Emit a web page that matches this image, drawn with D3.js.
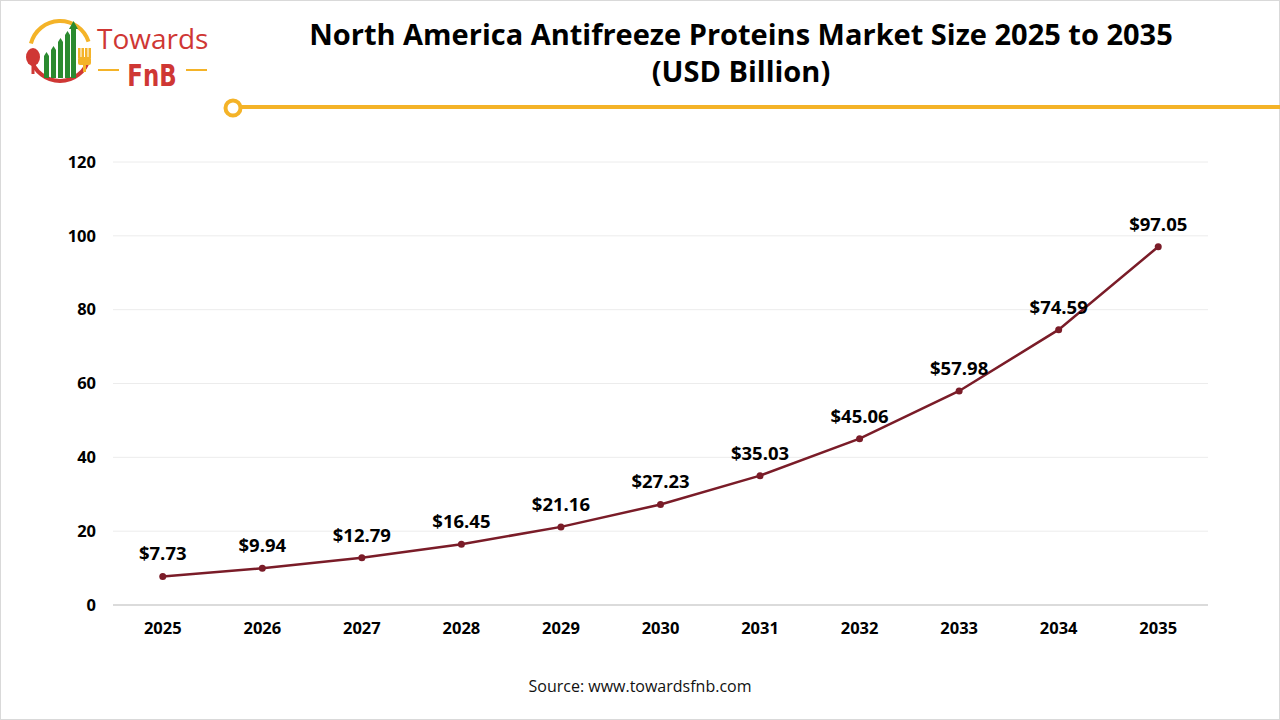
<!DOCTYPE html>
<html><head><meta charset="utf-8">
<script src="https://cdn.jsdelivr.net/npm/d3@7"></script>
<style>
html,body{margin:0;padding:0;background:#fff;}
svg{display:block;}
</style></head>
<body>
<svg id="chart" width="1280" height="720"></svg>
<script>
const years = ["2025","2026","2027","2028","2029","2030","2031","2032","2033","2034","2035"];
const values = [7.73, 9.94, 12.79, 16.45, 21.16, 27.23, 35.03, 45.06, 57.98, 74.59, 97.05];
const yTicks = [0, 20, 40, 60, 80, 100, 120];
const titleLines = ["North America Antifreeze Proteins Market Size 2025 to 2035", "(USD Billion)"];
const sourceText = "Source: www.towardsfnb.com";

const svg = d3.select("#chart");
const W = 1280, H = 720;
const font = "'Open Sans', 'DejaVu Sans', sans-serif";

// frame
svg.append("rect").attr("x",0.5).attr("y",0.5).attr("width",W-1).attr("height",H-1)
  .attr("fill","#fff").attr("stroke","#d9d9d9").attr("stroke-width",1);

// title
svg.append("g").selectAll("text").data(titleLines).join("text")
  .attr("x",741).attr("y",(d,i)=>45+i*37)
  .attr("text-anchor","middle").attr("font-family",font).attr("font-weight",700)
  .attr("font-size",29).attr("fill","#000").text(d=>d);

// gold divider
const gold = "#F4B328";
svg.append("line").attr("x1",241).attr("x2",1280).attr("y1",107).attr("y2",107)
  .attr("stroke",gold).attr("stroke-width",4);
svg.append("circle").attr("cx",233).attr("cy",108).attr("r",7.5)
  .attr("fill","#fff").attr("stroke",gold).attr("stroke-width",4);

// logo
const red = "#CF3734", green = "#2A8A2F";
const logo = svg.append("g");
const arcGen = d3.arc().innerRadius(28).outerRadius(32);
logo.append("path").attr("transform","translate(60,51)")
  .attr("d",arcGen({startAngle:-Math.PI*0.42,endAngle:Math.PI*0.40})).attr("fill",gold);
logo.append("path").attr("transform","translate(60,51)")
  .attr("d",arcGen({startAngle:Math.PI*0.58,endAngle:Math.PI*1.42})).attr("fill",red);
// spoon
logo.append("ellipse").attr("cx",33).attr("cy",57).attr("rx",7).attr("ry",9).attr("fill",red);
logo.append("rect").attr("x",31.5).attr("y",60).attr("width",3).attr("height",14).attr("fill",red);
// fork
logo.append("rect").attr("x",78).attr("y",57).attr("width",13).attr("height",8).attr("rx",2).attr("fill",gold);
[78,81.5,85,88.5].forEach(xx=>logo.append("rect").attr("x",xx).attr("y",48).attr("width",2.5).attr("height",10).attr("fill",gold));
logo.append("rect").attr("x",83).attr("y",64).attr("width",3).attr("height",8).attr("fill",gold);
// bars
[[44,56],[51,50],[58,42],[65,35]].forEach(b=>{
  logo.append("rect").attr("x",b[0]).attr("y",b[1]).attr("width",5).attr("height",78-b[1]).attr("fill",green);
  logo.append("path").attr("d",`M${b[0]},${b[1]} L${b[0]+2.5},${b[1]-4} L${b[0]+5},${b[1]} Z`).attr("fill",green);
});
logo.append("rect").attr("x",71).attr("y",28).attr("width",5).attr("height",50).attr("fill",green);
logo.append("path").attr("d","M69,29 L73.5,21 L78,29 Z").attr("fill",green);
logo.append("text").attr("x",97).attr("y",49).attr("font-family",font).attr("font-weight",500)
  .attr("font-size",28).attr("fill",red).text("Towards");
logo.append("text").attr("transform","translate(152,86) scale(0.82,1)").attr("text-anchor","middle")
  .attr("font-family","'DejaVu Sans Condensed','DejaVu Sans',sans-serif")
  .attr("font-weight",700).attr("font-size",31).attr("fill",red).text("FnB");
logo.append("line").attr("x1",98).attr("x2",119).attr("y1",70).attr("y2",70).attr("stroke",gold).attr("stroke-width",2);
logo.append("line").attr("x1",186).attr("x2",207).attr("y1",70).attr("y2",70).attr("stroke",gold).attr("stroke-width",2);

// scales
const x = d3.scaleBand().domain(years).range([113,1208]);
const y = d3.scaleLinear().domain([0,120]).range([605,162]);

// gridlines
svg.append("g").selectAll("line").data(yTicks.filter(t=>t>0)).join("line")
  .attr("x1",113).attr("x2",1208).attr("y1",d=>y(d)).attr("y2",d=>y(d))
  .attr("stroke","#ececec").attr("stroke-width",1);
// baseline
svg.append("line").attr("x1",113).attr("x2",1208).attr("y1",y(0)).attr("y2",y(0))
  .attr("stroke","#cfcfcf").attr("stroke-width",1.5);

// y axis
const yAxis = d3.axisLeft(y).tickValues(yTicks).tickSize(0).tickPadding(0);
const ya = svg.append("g").attr("transform","translate(96,0)").call(yAxis);
ya.select(".domain").remove();
ya.selectAll("text").attr("font-family",font).attr("font-weight",700).attr("font-size",16.5).attr("fill","#000");

// x axis
const xAxis = d3.axisBottom(x).tickSize(0).tickPadding(0);
const xa = svg.append("g").attr("transform","translate(0,622)").call(xAxis);
xa.select(".domain").remove();
xa.selectAll("text").attr("font-family",font).attr("font-weight",700).attr("font-size",16.5).attr("fill","#000");

// line
const lineColor = "#7A1C28";
const cx = d => x(d) + x.bandwidth()/2;
const line = d3.line().x((d,i)=>cx(years[i])).y(d=>y(d));
svg.append("path").datum(values).attr("d",line).attr("fill","none")
  .attr("stroke",lineColor).attr("stroke-width",2.5);
svg.append("g").selectAll("circle").data(values).join("circle")
  .attr("cx",(d,i)=>cx(years[i])).attr("cy",d=>y(d)).attr("r",3.5).attr("fill",lineColor);

// labels
svg.append("g").selectAll("text").data(values).join("text")
  .attr("x",(d,i)=>cx(years[i])).attr("y",d=>y(d)-16)
  .attr("text-anchor","middle").attr("font-family",font).attr("font-weight",700)
  .attr("font-size",18.5).attr("fill","#000").text(d=>"$"+d.toFixed(2));

// source
svg.append("text").attr("x",640).attr("y",692).attr("text-anchor","middle")
  .attr("font-family",font).attr("font-size",16).attr("fill","#111").text(sourceText);
</script>
</body></html>
